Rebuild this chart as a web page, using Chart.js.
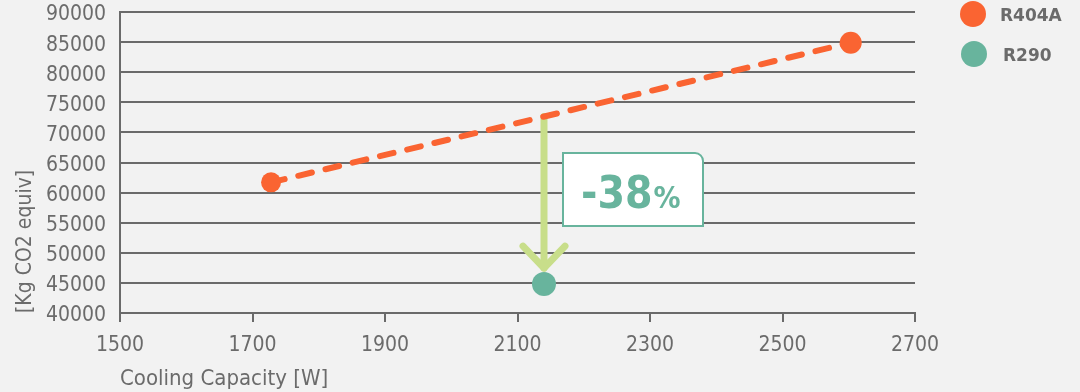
<!DOCTYPE html>
<html>
<head>
<meta charset="utf-8">
<script src="https://cdn.jsdelivr.net/npm/chart.js@4.4.0/dist/chart.umd.min.js"></script>
<style>
  html, body { margin: 0; padding: 0; background: #f2f2f2; }
  #wrap { width: 1080px; height: 392px; }
</style>
</head>
<body>
<div id="wrap"><canvas id="myChart" width="1080" height="392"></canvas></div>
<script>
// cooling capacity [W] vs CO2 equivalent [kg]
let capacityR404A = [1728, 2603];
let co2R404A = [61700, 84900];
let capacityR290 = [2140];
let co2R290 = [44800];
let seriesNames = ['R404A', 'R290'];
let xTicks = [1500, 1700, 1900, 2100, 2300, 2500, 2700];
let yTicks = [40000, 45000, 50000, 55000, 60000, 65000, 70000, 75000, 80000, 85000, 90000];

let orange = '#fa6432';
let teal = '#68b49d';
let arrowGreen = '#c8de8a';
let gridGray = '#6a6a6a';
let textGray = '#6b6b6b';
let fontName = '"DejaVu Sans Condensed", "DejaVu Sans", sans-serif';

// R404A value on the line at the R290 capacity
function lineValueAt(x){
  let t = (x - capacityR404A[0]) / (capacityR404A[1] - capacityR404A[0]);
  return co2R404A[0] + t * (co2R404A[1] - co2R404A[0]);
}
let refValue = lineValueAt(capacityR290[0]);
let reduction = Math.round((1 - co2R290[0] / refValue) * 100);

let pointsR404A = capacityR404A.map(function(x, i){ return {x: x, y: co2R404A[i]}; });
let pointsR290 = capacityR290.map(function(x, i){ return {x: x, y: co2R290[i]}; });

let arrowPlugin = {
  id: 'arrowPlugin',
  beforeDatasetsDraw(chart){
    let ctx = chart.ctx;
    let xs = chart.scales.x, ys = chart.scales.y;
    let ax = xs.getPixelForValue(capacityR290[0]);
    let top = ys.getPixelForValue(refValue);
    let tip = ys.getPixelForValue(co2R290[0]) - 16;
    ctx.save();
    ctx.strokeStyle = arrowGreen;
    ctx.lineWidth = 7;
    ctx.lineCap = 'round';
    ctx.lineJoin = 'round';
    ctx.beginPath();
    ctx.moveTo(ax, top);
    ctx.lineTo(ax, tip);
    ctx.stroke();
    ctx.beginPath();
    ctx.moveTo(ax - 21, tip - 22);
    ctx.lineTo(ax, tip);
    ctx.lineTo(ax + 21, tip - 22);
    ctx.stroke();
    ctx.restore();
  },
  afterDatasetsDraw(chart){
    let ctx = chart.ctx;
    let ax = chart.scales.x.getPixelForValue(capacityR290[0]);
    let bx = ax + 19, by = 153, bw = 140, bh = 73, r = 8;
    ctx.save();
    // callout box, top-right corner rounded
    ctx.beginPath();
    ctx.moveTo(bx, by);
    ctx.lineTo(bx + bw - r, by);
    ctx.arcTo(bx + bw, by, bx + bw, by + r, r);
    ctx.lineTo(bx + bw, by + bh);
    ctx.lineTo(bx, by + bh);
    ctx.closePath();
    ctx.fillStyle = '#ffffff';
    ctx.fill();
    ctx.strokeStyle = teal;
    ctx.lineWidth = 2;
    ctx.stroke();
    ctx.fillStyle = teal;
    ctx.textBaseline = 'alphabetic';
    ctx.textAlign = 'left';
    ctx.font = 'bold 44px ' + fontName;
    let big = '-' + reduction;
    ctx.fillText(big, bx + 18, by + 55);
    let w = ctx.measureText(big).width;
    ctx.font = 'bold 30px ' + fontName;
    ctx.fillText('%', bx + 18 + w + 1, by + 55);

    // legend on the right
    let colors = [orange, teal];
    let rows = [{cx: 973, cy: 14, tx: 1000}, {cx: 974, cy: 54, tx: 1003}];
    ctx.font = 'bold 17px "DejaVu Sans", sans-serif';
    ctx.textBaseline = 'middle';
    seriesNames.forEach(function(name, i){
      ctx.beginPath();
      ctx.arc(rows[i].cx, rows[i].cy, 13, 0, Math.PI * 2);
      ctx.fillStyle = colors[i];
      ctx.fill();
      ctx.fillStyle = textGray;
      ctx.fillText(name, rows[i].tx, rows[i].cy + 3);
    });
    ctx.restore();
  }
};

let plain = function(value){ return String(value); };

let ctx = document.getElementById('myChart');
let chart = new Chart(ctx, {
  type: 'scatter',
  data: {
    datasets: [{
      label: seriesNames[0],
      data: pointsR404A,
      showLine: true,
      borderColor: orange,
      borderWidth: 6,
      borderDash: [14, 14],
      borderCapStyle: 'round',
      pointRadius: [10, 11],
      pointBackgroundColor: orange,
      pointBorderWidth: 0
    }, {
      label: seriesNames[1],
      data: pointsR290,
      pointRadius: 12,
      pointBackgroundColor: teal,
      pointBorderWidth: 0
    }]
  },
  options: {
    responsive: false,
    animation: false,
    layout: { padding: { left: 0, right: 165, top: 11, bottom: 0 } },
    plugins: { legend: { display: false }, tooltip: { enabled: false } },
    scales: {
      x: {
        type: 'linear',
        min: xTicks[0],
        max: xTicks[xTicks.length - 1],
        afterBuildTicks(axis){ axis.ticks = xTicks.map(function(v){ return {value: v}; }); },
        afterFit(axis){ axis.height = 79; },
        grid: { drawOnChartArea: false, color: gridGray, lineWidth: 2, tickLength: 9 },
        border: { color: gridGray, width: 2 },
        ticks: { color: textGray, font: { family: fontName, size: 21 }, padding: 11, maxRotation: 0, callback: plain },
        title: {
          display: true, text: 'Cooling Capacity [W]', align: 'start',
          color: textGray, font: { family: fontName, size: 22 }, padding: { top: 2, bottom: 0 }
        }
      },
      y: {
        min: yTicks[0],
        max: yTicks[yTicks.length - 1],
        afterBuildTicks(axis){ axis.ticks = yTicks.map(function(v){ return {value: v}; }); },
        afterFit(axis){ axis.width = 120; },
        // invisible tick marks keep the labels off the axis line
        grid: { color: gridGray, lineWidth: 2, drawTicks: true, tickLength: 14, tickColor: 'rgba(0,0,0,0)' },
        border: { color: gridGray, width: 2 },
        ticks: { color: textGray, font: { family: fontName, size: 21, lineHeight: 1 }, padding: 0, labelOffset: 3, callback: plain },
        title: {
          display: true, text: '[Kg CO2 equiv]', align: 'start',
          color: textGray, font: { family: fontName, size: 21 }, padding: { top: 13, bottom: 0 }
        }
      }
    }
  },
  plugins: [arrowPlugin]
});
</script>
</body>
</html>
